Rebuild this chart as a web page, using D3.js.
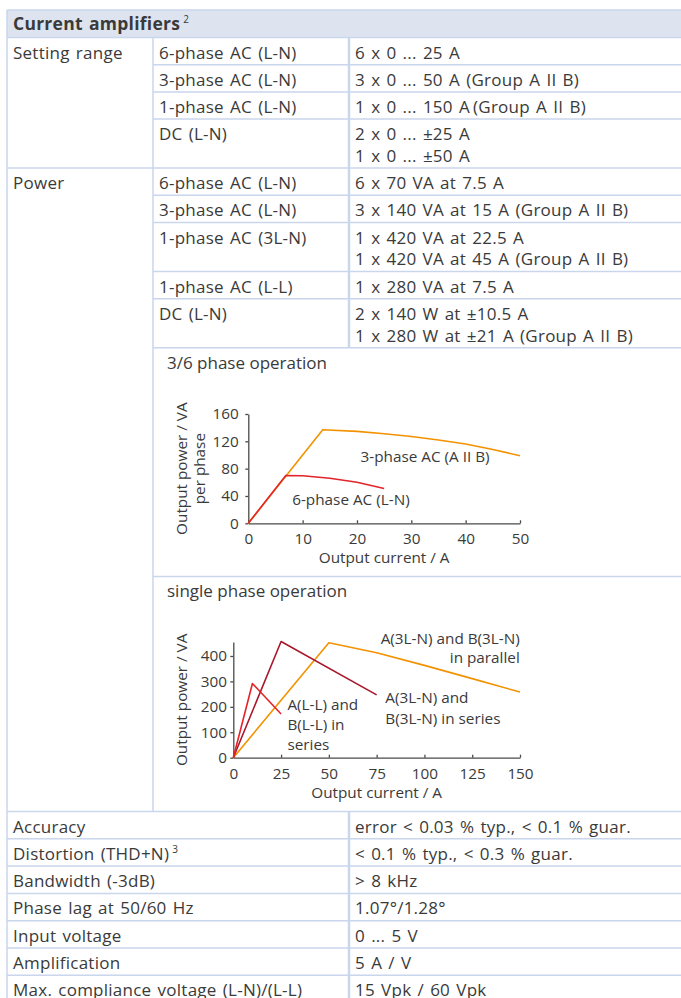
<!DOCTYPE html>
<html>
<head>
<meta charset="utf-8">
<script src="https://cdn.jsdelivr.net/npm/d3@7/dist/d3.min.js"></script>
<style>
  body { margin: 0; background: #fff; }
  svg text { font-family: "Open Sans", sans-serif; fill: #3a3a3a; }
  .tbl { letter-spacing: 0.25px; word-spacing: 1.5px; }
</style>
</head>
<body>
<svg id="sheet" width="681" height="998"></svg>
<script>
// table text
var settingRows = [
  ["6-phase AC (L-N)", ["6 x 0 ... 25 A"]],
  ["3-phase AC (L-N)", ["3 x 0 ... 50 A (Group A II B)"]],
  ["1-phase AC (L-N)", ["1 x 0 ... 150 A\u2009(Group A II B)"]],
  ["DC (L-N)", ["2 x 0 ... \u00b125 A", "1 x 0 ... \u00b150 A"]]
];
var powerRows = [
  ["6-phase AC (L-N)", ["6 x 70 VA at 7.5 A"]],
  ["3-phase AC (L-N)", ["3 x 140 VA at 15 A (Group A II B)"]],
  ["1-phase AC (3L-N)", ["1 x 420 VA at 22.5 A", "1 x 420 VA at 45 A (Group A II B)"]],
  ["1-phase AC (L-L)", ["1 x 280 VA at 7.5 A"]],
  ["DC (L-N)", ["2 x 140 W at \u00b110.5 A", "1 x 280 W at \u00b121 A (Group A II B)"]]
];
var specRows = [
  ["Accuracy", "error < 0.03 % typ., < 0.1 % guar."],
  ["Distortion (THD+N)", "< 0.1 % typ., < 0.3 % guar.", "3"],
  ["Bandwidth (-3dB)", "> 8 kHz"],
  ["Phase lag at 50/60 Hz", "1.07\u00b0/1.28\u00b0"],
  ["Input voltage", "0 ... 5 V"],
  ["Amplification", "5 A / V"],
  ["Max. compliance voltage (L-N)/(L-L)", "15 Vpk / 60 Vpk"]
];

// chart 1: 3/6 phase operation
var xTicks1 = [0, 10, 20, 30, 40, 50];
var yTicks1 = [0, 40, 80, 120, 160];
var threePhase = [[0,0],[13.7,137],[20,134.5],[25,131],[30,127],[35,122],[40,116],[45,108],[50,99]];
var sixPhase = [[0,0],[6.9,70],[10,69.5],[15,66],[20,60],[25,51]];

// chart 2: single phase operation
var xTicks2 = [0, 25, 50, 75, 100, 125, 150];
var yTicks2 = [0, 100, 200, 300, 400];
var llSeries = [[0,0],[10,292],[25,172]];
var lnSeries = [[0,0],[25,457],[75,247]];
var lnParallel = [[0,0],[50,452],[75,413],[100,363],[125,311],[150,258]];

var svg = d3.select("#sheet");
var lineCol = "#c9d6ec";
var fs = 17, cfs = 15.3;

// header band
svg.append("rect").attr("x", 7).attr("y", 10).attr("width", 680).attr("height", 27)
  .attr("fill", "#dde4f0");
svg.append("line").attr("x1", 7).attr("x2", 681).attr("y1", 10).attr("y2", 10)
  .attr("stroke", lineCol).attr("stroke-width", 1.5);
var head = svg.append("text").attr("x", 13).attr("y", 30).attr("class", "tbl")
  .style("font-size", "17.5px").style("font-weight", "bold").text("Current amplifiers");
head.append("tspan").attr("dx", 3).attr("dy", -7).style("font-size", "10px")
  .style("font-weight", "normal").text("2");

function hline(y, x1) {
  svg.append("line").attr("x1", x1).attr("x2", 681).attr("y1", y).attr("y2", y)
    .attr("stroke", lineCol).attr("stroke-width", 1.5);
}
function vline(x, y1, y2, w) {
  svg.append("line").attr("x1", x).attr("x2", x).attr("y1", y1).attr("y2", y2)
    .attr("stroke", lineCol).attr("stroke-width", w || 1.5);
}
function txt(x, y, s, size) {
  return svg.append("text").attr("x", x).attr("y", y).attr("class", "tbl")
    .style("font-size", (size || fs) + "px").text(s);
}

var rowH = 27.2, lineH = 21.8;
var y = 37.5;
hline(y, 7);

// grouped rows (Setting range, Power)
function group(label, rows, last) {
  txt(13, y + 21, label);
  rows.forEach(function(r, i) {
    txt(159, y + 21, r[0]);
    r[1].forEach(function(s, j) { txt(355, y + 21 + j * lineH, s); });
    y += rowH + (r[1].length - 1) * lineH;
    if (i < rows.length - 1) hline(y, 153);
  });
  if (!last) hline(y, 7); else hline(y, 153);
}
var tableTop = y;
group("Setting range", settingRows, false);
group("Power", powerRows, true);
var tableBottom = y;
vline(349, tableTop, tableBottom, 2.5);

// chart cells
var cell1Top = y, cell2Top = 576.5, cellsBottom = 811.5;
hline(cell2Top, 153);
hline(cellsBottom, 7);
vline(153, tableTop, cellsBottom);
txt(167, cell1Top + 21, "3/6 phase operation").attr("class", null);
txt(167, cell2Top + 20, "single phase operation").attr("class", null);

function drawChart(cfg) {
  var x = d3.scaleLinear().domain(cfg.xDomain).range(cfg.xRange);
  var yS = d3.scaleLinear().domain(cfg.yDomain).range(cfg.yRange);
  var g = svg.append("g");

  var ya = g.append("g").attr("transform", "translate(" + cfg.xRange[0] + ",0)")
    .call(d3.axisLeft(yS).tickValues(cfg.yTicks).tickSizeInner(3).tickSizeOuter(0));
  ya.selectAll("text").attr("x", -cfg.yPad).style("font-size", cfs + "px")
    .style("font-family", null).attr("fill", null);
  var xa = g.append("g").attr("transform", "translate(0," + cfg.yRange[0] + ")")
    .call(d3.axisBottom(x).tickValues(cfg.xTicks).tickSizeInner(-3).tickSizeOuter(0));
  xa.selectAll("text").attr("y", 21).attr("dy", null).style("font-size", cfs + "px")
    .style("font-family", null).attr("fill", null);
  g.selectAll(".domain, .tick line").attr("stroke", "#4a4a4a").attr("stroke-width", 1.3);
  g.selectAll(".tick text").style("fill", "#3a3a3a");

  var line = d3.line().x(function(d) { return x(d[0]); }).y(function(d) { return yS(d[1]); });
  cfg.series.forEach(function(s) {
    g.append("path").datum(s.data).attr("d", line).attr("fill", "none")
      .attr("stroke", s.color).attr("stroke-width", 1.6).attr("stroke-linejoin", "round");
  });

  var xMid = (cfg.xRange[0] + cfg.xRange[1]) / 2;
  g.append("text").attr("x", xMid).attr("y", cfg.yRange[0] + 40).attr("text-anchor", "middle")
    .style("font-size", cfs + "px").text("Output current / A");
  var yMid = (cfg.yRange[0] + cfg.yRange[1]) / 2;
  cfg.yTitle.forEach(function(t, i) {
    g.append("text").attr("transform", "translate(" + (186.5 + i * 18) + "," + yMid + ") rotate(-90)")
      .attr("text-anchor", "middle").style("font-size", cfs + "px").text(t);
  });
  cfg.labels.forEach(function(l) {
    var t = g.append("text").attr("text-anchor", l.anchor || "start").style("font-size", cfs + "px");
    l.lines.forEach(function(s, i) {
      t.append("tspan").attr("x", l.x).attr("y", l.y + i * l.lh).text(s);
    });
  });
}

drawChart({
  xDomain: [0, 50], xRange: [248.3, 520], yDomain: [0, 160], yRange: [523.3, 414],
  xTicks: xTicks1, yTicks: yTicks1, yPad: 9.5,
  yTitle: ["Output power / VA", "per phase"],
  series: [
    { data: threePhase, color: "#f39200" },
    { data: sixPhase, color: "#e3242b" }
  ],
  labels: [
    { x: 360.5, y: 462, lines: ["3-phase AC (A II B)"], lh: 0 },
    { x: 292.2, y: 504.7, lines: ["6-phase AC (L-N)"], lh: 0 }
  ]
});

drawChart({
  xDomain: [0, 150], xRange: [233.3, 520], yDomain: [0, 455], yRange: [757.7, 642],
  xTicks: xTicks2, yTicks: yTicks2, yPad: 6.4,
  yTitle: ["Output power / VA"],
  series: [
    { data: lnParallel, color: "#f39200" },
    { data: lnSeries, color: "#a8172b" },
    { data: llSeries, color: "#e3242b" }
  ],
  labels: [
    { x: 519.8, y: 643.5, lines: ["A(3L-N) and B(3L-N)", "in parallel"], lh: 19.3, anchor: "end" },
    { x: 287.4, y: 710.1, lines: ["A(L-L) and", "B(L-L) in", "series"], lh: 20 },
    { x: 385.3, y: 703.3, lines: ["A(3L-N) and", "B(3L-N) in series"], lh: 20.3 }
  ]
});

// bottom spec rows
y = cellsBottom;
var specTop = y;
specRows.forEach(function(r) {
  var t = txt(13, y + 21, r[0]);
  if (r[2]) t.append("tspan").attr("dx", 3).attr("dy", -7).style("font-size", "10px").text(r[2]);
  txt(355, y + 21, r[1]);
  y += 27.3;
  hline(y, 7);
});
vline(349, specTop, 998, 2.5);
vline(7, 10, 998);
</script>
</body>
</html>
